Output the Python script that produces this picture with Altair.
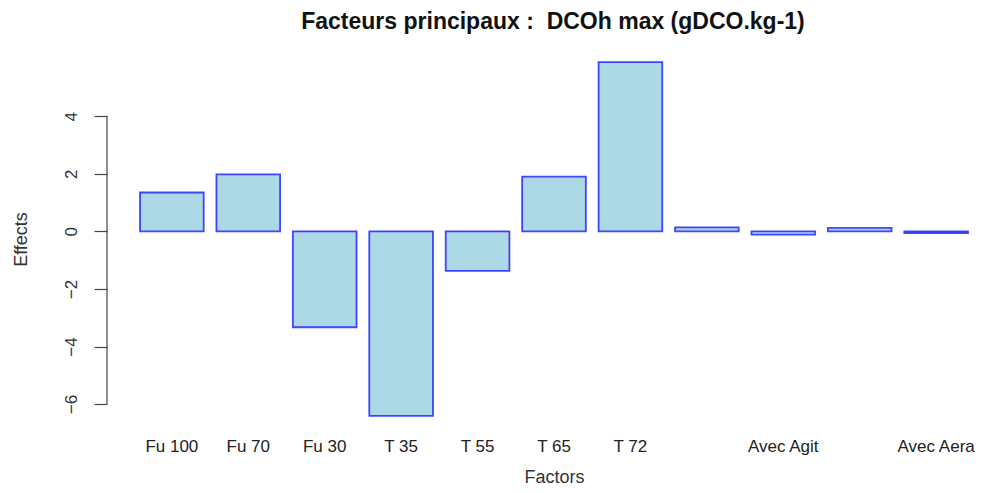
import altair as alt
import pandas as pd

factors = ["Fu 100", "Fu 70", "Fu 30", "T 35", "T 55", "T 65", "T 72",
           "Sans Agit", "Avec Agit", "Sans Aera", "Avec Aera"]
effects = [1.35, 1.98, -3.33, -6.41, -1.37, 1.90, 5.88, 0.14, -0.11, 0.12, -0.06]
y_ticks = [4, 2, 0, -2, -4, -6]

df = pd.DataFrame({"Factor": factors, "Effect": effects})
axis_df = pd.DataFrame({"lo": [min(y_ticks)], "hi": [max(y_ticks)]})

y_scale = alt.Scale(domain=[-6.9, 6.37], nice=False, zero=False)

bars = alt.Chart(df).mark_bar(
    fill="#ADD8E6", stroke="#1a1aff", strokeWidth=1.8, strokeOpacity=0.8,
    cornerRadius=0
).encode(
    x=alt.X("Factor:N", sort=factors,
            scale=alt.Scale(range=[33, 861], paddingInner=1/6, paddingOuter=0),
            axis=alt.Axis(title="Factors", domain=False, ticks=False,
                          labelAngle=0, labelFont="Liberation Sans", labelFontSize=17,
                          labelColor="#222", labelPadding=8,
                          labelExpr="indexof(datum.label, 'Sans') == 0 ? '' : datum.label",
                          labelOverlap=False,
                          titleFont="Liberation Sans", titleFontSize=18,
                          titleFontWeight="normal", titleColor="#333", titlePadding=14)),
    y=alt.Y("Effect:Q", scale=y_scale,
            axis=alt.Axis(title="Effects", values=y_ticks, domain=False, grid=False,
                          tickSize=13, tickColor="#444", tickWidth=1.2,
                          labelAngle=270, labelFont="Liberation Sans", labelFontSize=17,
                          labelColor="#333", labelPadding=14,
                          titleFont="Liberation Sans", titleFontSize=18,
                          titleFontWeight="normal", titleColor="#333", titlePadding=32))
)

axis_line = alt.Chart(axis_df).mark_rule(color="#444", strokeWidth=1.2).encode(
    x=alt.value(0),
    y=alt.Y("lo:Q", scale=y_scale),
    y2="hi:Q",
)

chart = alt.layer(bars, axis_line).properties(
    width=866,
    height=382,
    autosize=alt.AutoSizeParams(type="none"),
    padding={"left": 99, "top": 40, "right": 2, "bottom": 55},
    title=alt.TitleParams(
        text="Facteurs principaux :\u00a0 DCOh max (gDCO.kg-1)",
        font="Liberation Sans", fontSize=23, fontWeight="bold", color="#111",
        anchor="middle", dx=13, offset=14,
    ),
).configure_view(stroke=None).configure_axis(grid=False)

chart.save("out.html", embed_options={"renderer": "svg", "actions": False})
